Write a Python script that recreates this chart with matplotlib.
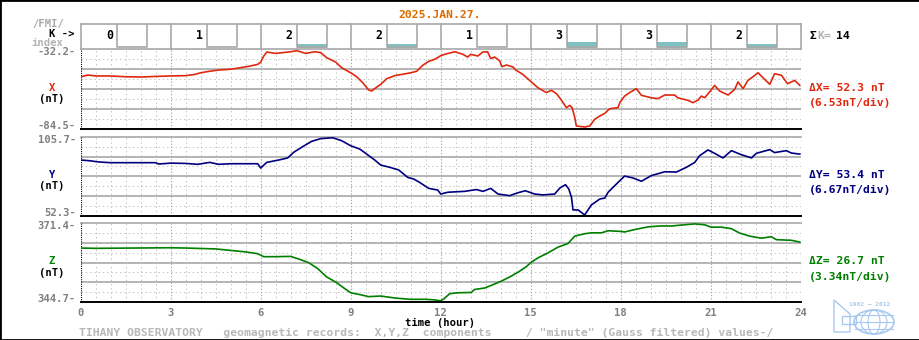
import numpy as np
import matplotlib.pyplot as plt
from matplotlib.patches import Ellipse, Polygon, Rectangle

W, H = 920, 340
X0, X1 = 80.7, 800.7          # hour 0 and hour 24 in pixels
MONO = 'DejaVu Sans Mono'
GRAY = '#a8a8a8'
DOT = '#c0c0c0'

day = '2025.JAN.27.'
k_index = [0, 1, 2, 2, 1, 3, 3, 2]

# X component (nT)
x_hours = [0.0, 0.24, 0.5, 1.0, 1.5, 2.0, 2.5, 3.0, 3.5, 3.8, 4.0, 4.3, 4.6, 5.0,
           5.4, 5.6, 5.9, 6.0, 6.1, 6.2, 6.5, 7.0, 7.2, 7.5, 7.8, 8.0, 8.2, 8.5,
           8.7, 9.0, 9.2, 9.4, 9.6, 9.7, 9.8, 10.0, 10.2, 10.5, 10.7, 11.0, 11.2,
           11.4, 11.6, 11.8, 12.0, 12.13, 12.47, 12.74, 12.9, 13.0, 13.24, 13.4,
           13.56, 13.67, 13.8, 13.97, 14.04, 14.19, 14.41, 14.5, 14.74, 15.02,
           15.24, 15.52, 15.69, 15.86, 16.02, 16.19, 16.3, 16.38, 16.47, 16.52,
           16.8, 16.97, 17.13, 17.3, 17.47, 17.63, 17.91, 17.97, 18.13, 18.3,
           18.52, 18.69, 19.02, 19.24, 19.47, 19.8, 19.9, 20.24, 20.41, 20.58,
           20.69, 20.8, 20.97, 21.13, 21.3, 21.58, 21.8, 21.91, 22.08, 22.24,
           22.41, 22.58, 22.74, 22.97, 23.13, 23.36, 23.56, 23.8, 23.97]
x_vals = [-50.2, -49.1, -49.7, -49.7, -50.2, -50.4, -50.0, -49.7, -49.5, -48.7,
          -47.6, -46.6, -45.8, -45.3, -44.0, -43.4, -42.1, -40.6, -36.7, -34.0,
          -34.9, -33.8, -33.1, -34.9, -33.8, -34.4, -37.7, -40.6, -44.3, -47.6,
          -50.2, -54.1, -58.9, -59.6, -58.0, -55.2, -51.5, -49.3, -48.7, -47.6,
          -46.6, -42.7, -40.1, -38.8, -36.4, -35.5, -33.8, -35.5, -37.3, -35.5,
          -36.6, -34.0, -33.8, -38.3, -37.3, -39.9, -43.6, -42.5, -43.8, -45.8,
          -48.7, -53.6, -57.4, -60.6, -59.1, -61.3, -65.5, -70.5, -69.0, -70.5,
          -77.0, -82.5, -83.2, -82.5, -78.2, -76.0, -74.2, -71.2, -70.5, -67.2,
          -62.9, -60.6, -58.0, -62.4, -64.0, -64.6, -62.2, -62.2, -64.0, -65.7,
          -67.2, -65.5, -62.9, -64.0, -60.0, -55.9, -59.6, -62.2, -58.5, -53.6,
          -58.0, -52.6, -50.2, -47.6, -50.8, -55.2, -48.2, -49.3, -54.8, -52.6,
          -55.9]

# Y component (nT)
y_hours = [0.0, 0.3, 0.6, 1.0, 2.5, 2.6, 3.0, 3.5, 3.9, 4.3, 4.6, 5.0, 5.9, 6.0,
           6.2, 6.6, 6.9, 7.1, 7.4, 7.7, 8.0, 8.4, 8.7, 9.0, 9.3, 9.5, 9.8, 10.0,
           10.3, 10.6, 10.9, 11.1, 11.3, 11.6, 11.9, 12.0, 12.24, 12.8, 13.19,
           13.41, 13.67, 13.91, 14.3, 14.58, 14.82, 15.13, 15.41, 15.8, 15.97,
           16.16, 16.27, 16.36, 16.41, 16.58, 16.8, 17.02, 17.3, 17.47, 17.58,
           17.91, 18.13, 18.41, 18.69, 19.02, 19.47, 19.86, 20.19, 20.47, 20.63,
           20.91, 21.13, 21.41, 21.69, 22.02, 22.36, 22.52, 22.97, 23.13, 23.52,
           23.69, 23.97]
y_vals = [90.0, 89.5, 88.7, 88.2, 88.2, 87.3, 87.9, 87.7, 87.1, 88.4, 87.1, 87.5,
          87.5, 84.6, 88.4, 90.0, 91.4, 95.2, 99.0, 102.6, 104.4, 105.0, 103.0,
          99.6, 97.4, 94.5, 90.0, 86.6, 85.1, 83.3, 78.3, 77.2, 74.9, 70.9, 69.8,
          67.1, 68.3, 68.9, 70.1, 68.9, 70.9, 67.1, 66.0, 68.0, 69.3, 67.1, 66.5,
          67.1, 71.1, 73.4, 70.5, 64.8, 56.4, 56.4, 53.0, 59.7, 63.7, 64.4, 68.3,
          74.9, 79.2, 77.9, 75.7, 79.5, 82.1, 81.9, 85.1, 88.4, 92.9, 96.8, 94.5,
          91.4, 96.3, 93.6, 91.4, 94.5, 97.0, 95.0, 96.3, 94.7, 94.0]

# Z component (nT)
z_hours = [0.0, 0.5, 3.0, 3.5, 4.5, 5.0, 5.5, 5.9, 6.1, 6.5, 7.0, 7.3, 7.6, 7.9,
           8.2, 8.5, 8.8, 9.0, 9.3, 9.6, 10.0, 10.5, 11.0, 11.5, 11.8, 12.0, 12.1,
           12.3, 12.58, 13.02, 13.13, 13.47, 13.74, 14.02, 14.3, 14.58, 14.86,
           15.0, 15.24, 15.58, 15.91, 16.24, 16.47, 16.8, 17.02, 17.36, 17.58,
           17.97, 18.13, 18.47, 18.91, 19.3, 19.69, 20.13, 20.47, 20.8, 21.02,
           21.36, 21.69, 21.97, 22.3, 22.69, 23.02, 23.19, 23.69, 23.97]
z_vals = [362.9, 362.8, 363.0, 362.9, 362.6, 362.1, 361.6, 361.0, 360.0, 360.0,
          360.1, 359.1, 358.0, 356.0, 353.2, 351.5, 349.3, 347.9, 347.3, 346.6,
          346.8, 346.1, 345.7, 345.7, 345.5, 345.2, 345.8, 347.6, 347.9, 348.0,
          349.0, 349.5, 350.6, 351.8, 353.2, 354.8, 356.7, 358.0, 359.6, 361.3,
          363.2, 364.4, 366.9, 367.7, 368.0, 368.0, 368.7, 368.5, 368.3, 369.1,
          370.0, 370.3, 370.3, 370.7, 371.0, 370.7, 369.9, 369.9, 369.4, 367.9,
          366.9, 366.2, 366.7, 365.7, 365.5, 364.9]

# name, colour, scale top, scale bottom, nT per division
components = [
    ('X', '#e0280e', -32.2, -84.5, 6.53),
    ('Y', '#000080', 105.7, 52.3, 6.67),
    ('Z', '#007f00', 371.4, 344.7, 3.34),
]
series = [(x_hours, x_vals), (y_hours, y_vals), (z_hours, z_vals)]

# pixel rows of the three panels (top, bottom)
rows = [(49.3, 129.0), (136.7, 216.0), (222.7, 302.3)]


def box(x0, y0, x1, y1):
    return [x0 / W, 1 - y1 / H, (x1 - x0) / W, (y1 - y0) / H]


def ftext(x, y, s, color='black', ha='left', size=7.6, **kw):
    fig.text(x / W, 1 - y / H, s, family=MONO, weight='bold', fontsize=size,
             color=color, ha=ha, va='center', **kw)


fig = plt.figure(figsize=(9.2, 3.4), dpi=100)
fig.patch.set_facecolor('white')
fig.add_artist(Rectangle((0, 0), 1, 1, transform=fig.transFigure,
                         fill=False, ec='black', lw=2))

# K-index strip
kax = fig.add_axes(box(X0, 24, X1, 49.3))
kax.set_xlim(0, 24)
kax.set_ylim(0, 1)
kax.axis('off')
kax.axhline(1, color=GRAY, lw=1.2, clip_on=False)
for h in range(0, 25, 3):
    kax.axvline(h, color=GRAY, lw=1.2, clip_on=False)
for i, k in enumerate(k_index):
    b0 = 3 * i + 1.21
    kax.text(3 * i + 0.95, 0.55, str(k), family=MONO, weight='bold',
             fontsize=8.3, ha='center', va='center')
    kax.plot([b0, b0, b0 + 1, b0 + 1], [1, 0.09, 0.09, 1], color=GRAY, lw=1.2)
    if k > 1:
        kax.add_patch(Rectangle((b0, 0.06), 1, 0.03 + (k - 1) * 0.1,
                                color='#80c0c0', lw=0))

# magnetogram panels
for (name, col, top, bot, step), (hrs, vals), (r0, r1) in zip(components, series, rows):
    ax = fig.add_axes(box(X0, r0, X1, r1))
    ax.set_xlim(0, 24)
    ax.set_ylim(bot, top)
    ax.axis('off')
    div = (top - bot) / 8
    for d in range(1, 8):
        if d % 2 == 0:
            ax.axhline(bot + d * div, color=GRAY, lw=1.2, zorder=1)
        else:
            ax.axhline(bot + d * div, color=DOT, lw=0.7, ls=(0, (1.4, 3)), zorder=1)
    ax.axhline(top, color=GRAY, lw=1.2, zorder=1, clip_on=False)
    for h in np.arange(0.5, 24.01, 0.5):
        if h % 3 == 0:
            ax.axvline(h, color='#a8a8a8', lw=0.8, ls=(0, (1.2, 1.6)), zorder=1)
        else:
            ax.axvline(h, color=DOT, lw=0.7, ls=(0, (1.4, 3)), zorder=1)
    ax.axvline(0, color='black', lw=0.8, ls=(0, (1, 1)), zorder=1)
    ax.axhline(bot, color='black', lw=1.4, zorder=3, clip_on=False)
    ax.plot(hrs, vals, color=col, lw=1.2, zorder=2)

    # scale labels and captions
    ftext(76, r0 + 3, f'{top:.1f}-', color='#808080', ha='right')
    ftext(76, r1 - 3, f'{bot:.1f}-', color='#808080', ha='right')
    mid = (r0 + r1) / 2
    ftext(52, mid - 1, name, color=col, ha='center')
    ftext(52, mid + 10, '(nT)', ha='center')
    ftext(809, mid - 1, f'\u0394{name}= {top - bot:.1f} nT', color=col, size=8.2)
    ftext(809, mid + 14, f'({step:.2f}nT/div)', color=col, size=8.2)

# header
ftext(440, 15, day, color='#e06a00', ha='center', size=8.2)
ftext(32, 24, '/FMI/', color=GRAY)
ftext(75, 34, 'K ->', ha='right')
ftext(31, 43.5, 'index', color='#b4b4b4')
ftext(810, 36, '\u03a3', size=8.2)
ftext(817, 36, 'K=', color='#b4b4b4', size=8.2)
ftext(836, 36, str(sum(k_index)), size=8.2)

# time axis
for h in range(0, 25, 3):
    ftext(X0 + h * 30, 312.5, str(h), color='#808080', ha='center')
ftext(440, 323, 'time (hour)', ha='center')
ftext(79, 333, 'TIHANY OBSERVATORY   geomagnetic records:  X,Y,Z  components'
      '     / "minute" (Gauss filtered) values-/', color='#b8b8b8', size=8.2)

# jubilee logo
lax = fig.add_axes(box(830, 296, 898, 338))
lax.set_xlim(0, 68)
lax.set_ylim(42, 0)
lax.axis('off')
logo = '#a8c8f0'
lax.text(40, 9, '1902 \u2014 2012', fontsize=4.5, color=logo, ha='center',
         va='center', family=MONO, weight='bold')
lax.add_patch(Polygon([(4, 4), (20, 18), (20, 36), (4, 36)], closed=True,
                      fill=False, ec=logo, lw=1))
lax.add_patch(Rectangle((12, 20), 14, 8, fill=False, ec=logo, lw=1))
lax.add_patch(Ellipse((44, 26), 40, 24, fill=False, ec=logo, lw=1.2))
for w in (26, 12):
    lax.add_patch(Ellipse((44, 26), w, 24, fill=False, ec=logo, lw=0.8))
for yy in (19, 26, 33):
    lax.plot([25, 63], [yy, yy], color=logo, lw=0.8)

fig.savefig('out.png', dpi=100, facecolor='white')
